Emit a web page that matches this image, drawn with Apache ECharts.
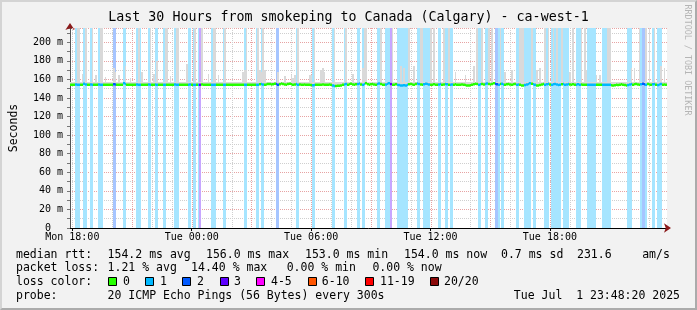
<!DOCTYPE html>
<html><head><meta charset="utf-8">
<script src="https://cdn.jsdelivr.net/npm/echarts@6/dist/echarts.min.js"></script>
<style>
html,body{margin:0;padding:0;background:#f2f2f2;}
#wrap{position:relative;width:697px;height:310px;}
#c{width:697px;height:310px;}
#frame{position:absolute;left:0;top:0;width:697px;height:310px;box-sizing:border-box;border-left:2px solid #d4d4d4;border-top:2px solid #d4d4d4;border-right:2px solid #ababab;border-bottom:2px solid #ababab;pointer-events:none;}
</style></head><body>
<div id="wrap"><div id="c"></div><div id="frame"></div></div>
<script>
// ---- time axis (minutes after Mon 00:00) ----
const startMin = 1073;           // Mon 17:53
const stepMin = 5;
const spanMin = 1800;            // 30 hours
const yMax = 215.4;
const xTickValues = [1080, 1440, 1800, 2160, 2520];
const xTickLabels = ['Mon 18:00', 'Tue 00:00', 'Tue 06:00', 'Tue 12:00', 'Tue 18:00'];

// ---- per-step loss level (0 = none, 1, 2, 3 lost pings) ----
const lossSteps = [
 0,0,0,1,1,1,0,0,1,1, 0,0,1,1,0,0,0,1,1,1, 0,0,0,0,0,0,2,2,0,0, 0,0,1,1,0,0,0,0,0,0, 1,1,1,0,0,0,0,1,1,0, 0,1,1,0,0,0,1,1,0,0,
 0,0,0,1,1,1,0,0,0,0, 0,1,1,0,1,1,0,1,3,0, 0,0,0,0,0,1,1,1,0,0, 0,0,1,1,0,0,0,0,0,0, 0,0,0,0,0,1,1,0,0,0, 0,0,1,1,0,1,1,0,0,0,
 0,0,0,0,2,2,0,0,0,0, 0,0,0,0,0,0,1,1,0,0, 0,0,0,0,0,0,1,1,0,0, 0,0,0,0,0,0,0,0,1,1, 0,0,0,0,0,1,1,0,0,0, 0,0,0,1,1,0,1,1,0,0,
 0,0,0,0,0,1,1,0,0,0, 1,1,1,3,0,0,0,1,1,1, 1,1,1,1,0,0,0,0,0,1, 1,0,0,1,1,1,1,0,0,0, 0,0,1,1,0,0,1,1,0,1, 1,0,0,0,0,0,0,0,0,0,
 0,0,0,0,0,0,1,1,0,0, 1,1,0,0,0,0,2,2,1,0, 1,1,0,0,0,0,0,0,0,1, 1,0,0,0,1,1,1,1,0,1, 1,0,0,0,0,0,1,1,1,0, 1,1,1,1,1,1,0,1,1,1,
 1,0,0,0,0,1,1,1,0,0, 0,0,1,1,1,1,1,0,0,0, 0,1,1,1,1,1,0,0,0,0, 0,0,0,0,0,0,1,1,1,0, 0,0,0,0,1,2,2,1,0,0, 0,1,1,0,1,1,1,0,0,0
];

// ---- per-step median rtt (ms) ----
const medianRtt = [
 154.4,154.4,154.4,154.6,154.4,154.4,154.4,154.4,155.3,154.6,154.4,154.4,154.6,154.4,154.4,154.4,154.4,154.6,154.4,154.4,154.4,154.4,154.4,154.4,154.4,154.4,154.8,154.6,154.4,154.4,
 154.4,154.4,155.8,155.2,154.4,154.4,154.4,154.4,154.4,154.4,154.6,154.4,154.4,154.4,154.4,154.4,154.4,154.6,154.4,154.4,154.4,154.6,154.4,154.4,154.4,154.4,154.4,154.4,154.4,154.4,
 154.4,154.4,154.4,154.6,154.4,154.4,154.4,154.4,154.4,154.4,154.4,154.4,154.6,154.4,154.4,154.4,154.4,154.4,154.4,154.6,154.4,154.4,154.4,154.4,154.4,154.4,154.4,154.4,154.4,154.4,
 154.4,154.4,154.4,154.4,154.4,154.4,154.4,154.4,154.4,154.4,154.4,154.4,154.4,154.4,154.4,154.4,154.4,154.4,154.4,154.4,154.4,154.4,154.4,154.4,154.8,155.2,154.6,154.4,154.6,155.0,
 155.2,154.6,154.8,155.4,155.0,154.4,154.8,155.6,155.2,154.6,154.4,155.0,155.4,154.8,154.4,154.6,155.0,154.4,154.6,154.4,154.4,154.6,154.4,154.4,154.2,154.0,153.8,154.0,154.4,154.4,
 154.4,154.4,154.6,154.4,154.4,154.4,154.6,154.2,153.4,153.0,153.0,153.2,153.2,153.6,154.2,154.6,155.0,154.4,154.8,155.4,154.6,154.2,154.8,155.2,155.6,154.6,154.2,155.0,155.8,154.8,
 154.4,154.8,155.2,154.6,154.2,155.0,155.6,155.0,154.4,154.2,154.6,155.4,155.8,155.0,154.2,154.4,154.8,154.4,154.0,153.6,153.4,153.8,153.6,154.2,154.8,155.2,154.6,154.4,155.0,155.6,
 155.2,154.6,154.4,154.8,155.4,155.0,154.6,154.4,154.4,154.8,154.4,154.2,154.6,155.0,154.4,154.6,155.2,154.8,154.4,154.2,154.6,154.4,154.8,154.4,154.2,154.4,154.6,154.4,154.0,153.6,
 153.4,153.8,154.4,154.8,155.4,155.0,154.4,154.8,155.2,154.6,155.0,155.6,155.2,154.6,155.0,155.8,155.4,154.8,154.4,155.0,155.4,154.6,154.4,154.8,155.2,154.6,154.4,154.8,155.0,154.4,
 154.6,154.2,153.6,153.4,154.0,154.6,155.2,156.0,155.4,154.8,154.2,153.6,153.4,154.0,154.6,155.0,154.4,154.8,155.4,154.6,154.2,154.8,155.2,154.6,154.0,154.4,154.8,155.0,154.4,154.6,
 155.0,154.6,154.4,154.8,154.4,154.4,154.8,154.4,154.6,154.4,154.4,154.4,154.4,154.4,154.4,154.4,154.4,154.4,154.4,154.4,154.4,154.4,154.4,154.4,154.4,154.2,153.8,153.6,153.8,154.2,
 154.0,154.4,154.8,154.4,154.0,153.6,154.0,154.6,155.0,154.4,154.8,155.2,154.6,154.2,154.8,155.4,154.8,154.4,155.0,154.6,154.2,154.8,155.2,154.4,154.0,154.6,155.0,154.4,154.6,154.4
];

// ---- per-step smoke top (highest ping rtt, ms) ----
const smokeTop = [
 157,157,157,157,230,230,157,166,157,230, 157,157,157,230,157,165,157,157,230,230, 157,163,157,157,157,157,172,168,157,165,
 157,157,157,175,157,157,162,157,157,157, 157,230,157,168,157,157,157,157,230,157, 166,157,180,157,157,157,157,230,230,157,
 164,157,157,157,230,230,157,157,157,157, 177,157,157,157,157,230,157,157,157,230, 157,157,157,166,157,157,230,230,157,165,
 157,157,157,230,157,157,157,157,157,157, 157,157,157,157,168,170,230,157,157,157, 157,157,157,230,170,168,230,170,157,157,
 157,157,157,157,157,168,157,157,157,164, 157,157,157,165,162,165,157,230,157,157, 157,157,157,157,165,165,157,230,157,157,
 157,170,172,168,157,157,157,157,157,230, 157,157,157,157,157,157,230,157,157,157, 166,157,157,157,157,157,172,230,230,157,
 157,157,157,157,157,157,157,230,157,157, 157,157,157,157,230,157,157,157,157,175, 157,172,157,157,230,157,157,175,157,157,
 157,230,230,157,157,157,157,230,157,230, 157,157,157,157,157,230,157,157,230,157, 157,157,168,157,157,157,157,157,165,157,
 157,157,157,175,157,230,157,157,230,157, 157,157,230,157,230,157,157,157,157,230, 157,157,168,157,157,157,170,157,157,157,
 157,230,230,230,157,157,157,157,230,157, 157,170,157,172,157,157,230,157,230,157, 157,230,157,230,157,157,230,157,157,157,
 157,168,157,230,157,157,157,157,230,157, 230,170,157,157,157,157,157,165,157,165, 157,157,157,157,230,230,157,157,157,157,
 157,157,157,157,157,157,157,157,172,157, 172,157,157,230,157,157,157,230,157,230, 157,157,230,157,157,157,175,157,172,157
];

const lossLegend = ['0', '1', '2', '3', '4-5', '6-10', '11-19', '20/20'];
const lossColors = ['#26ff00', '#00b8ff', '#0059ff', '#5e00ff', '#ff00ff', '#ff5500', '#ff0000', '#8b0a0a'];
const lossBgColors = ['none', '#a6e5ff', '#a6c5ff', '#c7a6ff'];

// ---- build series data ----
const endMin = startMin + spanMin;
const lossData = [], smokeData = [], medData = [];
for (let i = 0; i < medianRtt.length; i++) {
  const t0 = startMin + i * stepMin, t1 = t0 + stepMin;
  lossData.push([t0, t1, 0, yMax, lossSteps[i]]);
  smokeData.push([t0, t1, medianRtt[i], smokeTop[i]]);
  medData.push([t0, t1, medianRtt[i], lossSteps[i]]);
}
const hourLines = [];
for (let m = Math.ceil(startMin / 60) * 60; m < endMin; m += 60) {
  hourLines.push([m, 0, (m % 180 === 0 && m > 1080) ? 1 : 0]);
}

function snapRect(a, b) {
  const x0 = Math.round(Math.min(a[0], b[0])), x1 = Math.round(Math.max(a[0], b[0]));
  const y0 = Math.round(Math.min(a[1], b[1])), y1 = Math.round(Math.max(a[1], b[1]));
  return { x: x0, y: y0, width: x1 - x0, height: y1 - y0 };
}

const MONO = '"DejaVu Sans Mono", monospace';
const chart = echarts.init(document.getElementById('c'), null, { renderer: 'canvas' });

const legendFont = '11.5px ' + MONO;
function txt(x, y, s, align) {
  return { type: 'text', x: x, y: y, silent: true,
    style: { text: s, font: legendFont, fill: '#000', textAlign: align || 'left', textVerticalAlign: 'middle', align: align || 'left', verticalAlign: 'middle' } };
}
const row1 = 255, row2 = 268.5, row3 = 282, row4 = 296;
const graphics = [
  txt(16, row1, 'median rtt:'), txt(107.6, row1, '154.2 ms avg'), txt(206, row1, '156.0 ms max'),
  txt(305, row1, '153.0 ms min'), txt(404, row1, '154.0 ms now'), txt(501, row1, '0.7 ms sd'),
  txt(577, row1, '231.6'), txt(642.2, row1, 'am/s'),
  txt(16, row2, 'packet loss:'), txt(107.6, row2, '1.21 % avg'), txt(191.1, row2, '14.40 % max'),
  txt(286.7, row2, '0.00 % min'), txt(372.4, row2, '0.00 % now'),
  txt(16, row3, 'loss color:'),
  txt(16, row4, 'probe:'), txt(107.6, row4, '20 ICMP Echo Pings (56 Bytes) every 300s'),
  txt(680, row4, 'Tue Jul  1 23:48:20 2025', 'right'),
  { type: 'text', x: 687, y: 60, rotation: -Math.PI / 2, silent: true,
    style: { text: 'RRDTOOL / TOBI OETIKER', font: '8.4px ' + MONO, fill: '#b5b5b5', textAlign: 'center', textVerticalAlign: 'middle', align: 'center', verticalAlign: 'middle' } }
];
const boxX = [108, 145.3, 182, 219.6, 256.4, 307.6, 365, 430];
const boxLabelX = [123, 160, 197, 234, 271, 321.8, 380, 444];
lossLegend.forEach(function (lab, k) {
  graphics.push({ type: 'rect', silent: true, shape: { x: Math.round(boxX[k]) + 0.5, y: 277.5, width: 8, height: 8 },
    style: { fill: lossColors[k], stroke: '#000', lineWidth: 1 } });
  graphics.push(txt(boxLabelX[k], row3, lab));
});

const option = {
  animation: false,
  backgroundColor: '#f2f2f2',
  title: {
    text: 'Last 30 Hours from smokeping to Canada (Calgary) - ca-west-1',
    left: 'center', top: 11, padding: 0,
    textStyle: { fontFamily: MONO, fontSize: 13.3, fontWeight: 'normal', color: '#000' }
  },
  grid: { left: 67, right: 30, top: 28, bottom: 82, show: true, backgroundColor: '#ffffff', borderWidth: 0 },
  xAxis: [{
    type: 'value', min: startMin, max: endMin,
    axisLine: { show: true, lineStyle: { color: '#000', width: 1 } },
    axisTick: { show: true, length: 3, customValues: xTickValues, lineStyle: { color: '#000' } },
    axisLabel: { customValues: xTickValues, margin: 4, fontFamily: MONO, fontSize: 10, color: '#000',
      formatter: function (v) { const k = xTickValues.indexOf(v); return k >= 0 ? xTickLabels[k] : ''; } },
    splitLine: { show: false }
  }, {
    type: 'value', min: startMin, max: endMin, position: 'bottom',
    axisLine: { show: true, symbol: ['none', 'arrow'], symbolSize: [7, 7], symbolOffset: [0, 4], lineStyle: { color: '#8b1a1a', width: 0 } },
    axisTick: { show: false }, axisLabel: { show: false }, splitLine: { show: false }
  }],
  yAxis: [{
    type: 'value', min: 0, max: yMax, interval: 10,
    name: 'Seconds', nameLocation: 'middle', nameGap: 50, nameRotate: 90,
    nameTextStyle: { fontFamily: MONO, fontSize: 11.5, color: '#000' },
    axisLine: { show: true, lineStyle: { color: '#555', width: 1 } },
    axisTick: { show: true, length: 3, lineStyle: { color: '#777' } },
    axisLabel: { margin: 7, fontFamily: MONO, fontSize: 10, color: '#000',
      formatter: function (v) { if (v % 20 !== 0 || v > 200) return ''; return v === 0 ? '0  ' : v + ' m'; } },
    splitLine: { show: true, lineStyle: { color: ['#e7a3a3', '#cfcfcf'], type: [1, 1], width: 1 } }
  }, {
    type: 'value', min: 0, max: yMax, position: 'left',
    axisLine: { show: true, symbol: ['none', 'arrow'], symbolSize: [7, 7], symbolOffset: [0, 5], lineStyle: { color: '#8b1a1a', width: 0 } },
    axisTick: { show: false }, axisLabel: { show: false }, splitLine: { show: false }
  }],
  graphic: graphics,
  series: [{
    type: 'custom', name: 'hourGrid', z: 1, silent: true,
    data: hourLines, encode: { x: 0, y: 1 },
    renderItem: function (params, api) {
      const top = api.coord([api.value(0), yMax]);
      const bot = api.coord([api.value(0), 0]);
      const x = Math.round(top[0]) + 0.5;
      return { type: 'line', shape: { x1: x, y1: top[1], x2: x, y2: bot[1] },
        style: { stroke: api.value(2) ? '#e7a3a3' : '#cfcfcf', lineWidth: 1, lineDash: [1, 1] } };
    }
  }, {
    type: 'custom', name: 'loss', z: 2, silent: true,
    data: lossData, encode: { x: [0, 1], y: [2, 3] },
    renderItem: function (params, api) {
      const lvl = api.value(4);
      if (!lvl) return null;
      const a = api.coord([api.value(0), api.value(3)]);
      const b = api.coord([api.value(1), api.value(2)]);
      return { type: 'rect', shape: snapRect(a, b), style: { fill: lossBgColors[lvl] } };
    }
  }, {
    type: 'custom', name: 'smoke', z: 3, silent: true,
    data: smokeData, encode: { x: [0, 1], y: [2, 3] },
    renderItem: function (params, api) {
      const top = Math.min(api.value(3), yMax);
      const a = api.coord([api.value(0), top]);
      const b = api.coord([api.value(1), api.value(2)]);
      return { type: 'rect', shape: snapRect(a, b), style: { fill: '#d9d9d9' } };
    }
  }, {
    type: 'custom', name: 'median', z: 4, silent: true,
    data: medData, encode: { x: [0, 1], y: 2 },
    renderItem: function (params, api) {
      const a = api.coord([api.value(0), api.value(2)]);
      const b = api.coord([api.value(1), api.value(2)]);
      const x0 = Math.round(a[0]), x1 = Math.round(b[0]);
      return { type: 'rect', shape: { x: x0, y: a[1] - 1.25, width: x1 - x0, height: 2.5 },
        style: { fill: lossColors[api.value(3)] } };
    }
  }]
};
chart.setOption(option);
</script>
</body></html>
